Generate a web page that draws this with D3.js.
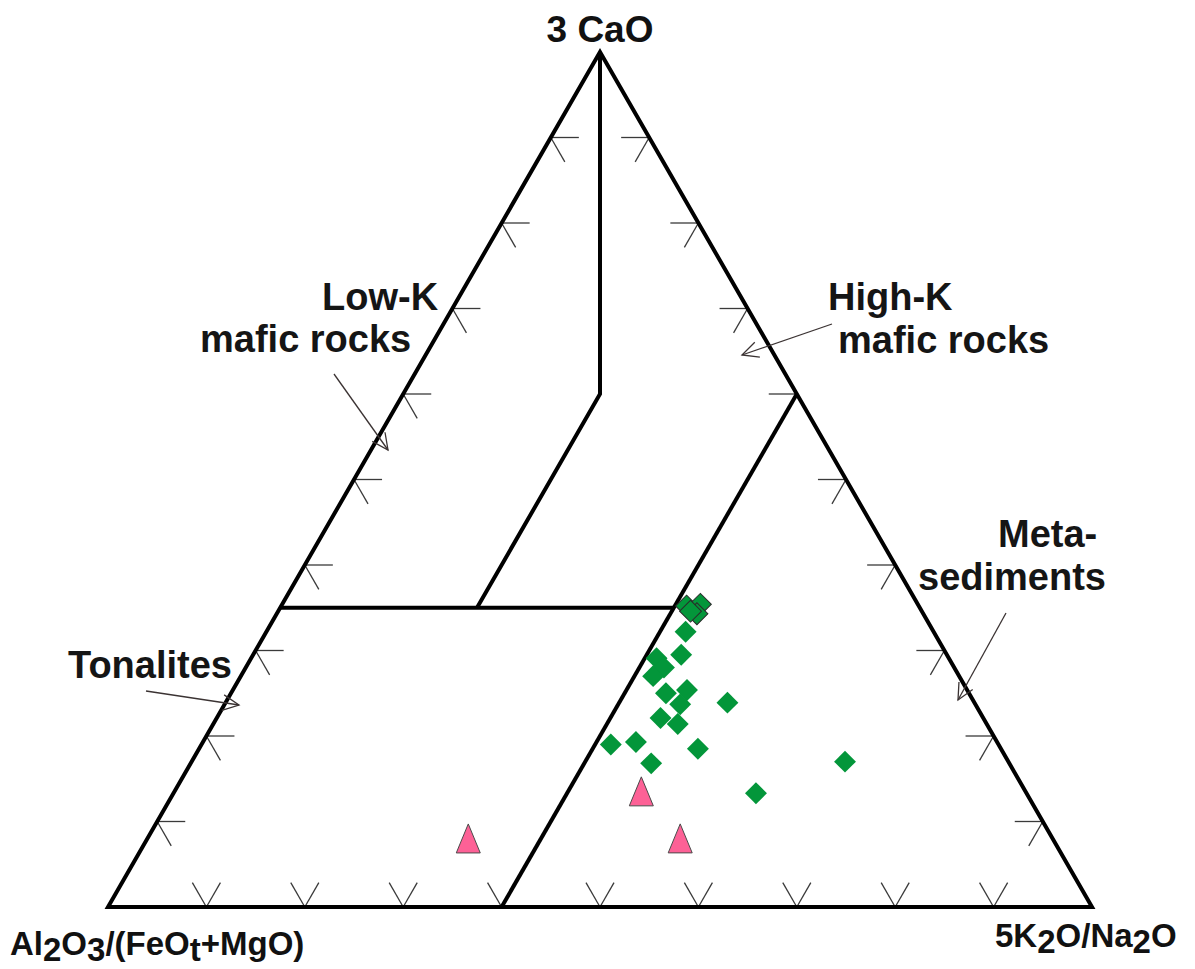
<!DOCTYPE html>
<html>
<head>
<meta charset="utf-8">
<script src="https://cdn.jsdelivr.net/npm/d3@7"></script>
<style>
  body { margin: 0; background: #fff; }
  svg { display: block; font-family: "Liberation Sans", Arial, sans-serif; }
</style>
</head>
<body>
<div id="chart"></div>
<script>
// ternary values in % : Al2O3/(FeOt+MgO), 5K2O/Na2O, 3CaO
const clusterAl = [23.6, 22.1, 23.0, 23.5];
const clusterK  = [41.2, 42.5, 42.7, 41.9];
const clusterCa = [35.2, 35.4, 34.3, 34.6];

const diamondAl = [25.2, 27.0, 29.7, 29.5, 31.1, 28.5, 30.8, 30.0, 25.1, 32.8, 31.4, 39.4, 36.7, 30.8, 36.4, 16.6, 27.5];
const diamondK  = [42.6, 43.5, 41.2, 42.5, 41.9, 46.2, 44.2, 46.3, 51.0, 45.1, 47.2, 41.6, 44.0, 50.7, 46.8, 66.4, 59.2];
const diamondCa = [32.2, 29.5, 29.1, 28.0, 27.0, 25.4, 25.0, 23.7, 23.9, 22.1, 21.4, 19.0, 19.3, 18.5, 16.8, 17.0, 13.3];

const triangleAl = [39.3, 38.1, 59.7];
const triangleK  = [47.7, 54.4, 32.9];
const triangleCa = [13.0, 7.5, 7.5];

// field boundaries, ternary vertices [Al, K, Ca]
const fieldLines = [
  [[0, 0, 100], [20, 20, 60], [45, 20, 35]],
  [[65, 0, 35], [25, 40, 35]],
  [[0, 40, 60], [60, 40, 0]]
];

const tickValues = [10, 20, 30, 40, 50, 60, 70, 80, 90];

const fieldNames = [
  ["Low-K", "mafic rocks"],
  ["High-K", "mafic rocks"],
  ["Meta-", "sediments"],
  ["Tonalites"]
];

const width = 1195;
const height = 969;

const svg = d3.select("#chart")
  .append("svg")
  .attr("width", width)
  .attr("height", height);

const xScale = d3.scaleLinear().domain([0, 1]).range([108, 1092]);
const yScale = d3.scaleLinear().domain([0, 100]).range([907, 52]);

function proj(al, k, ca) {
  const s = al + k + ca;
  const kk = k / s, cc = ca / s;
  return [xScale(kk + cc / 2), yScale(cc * 100)];
}

const line = d3.line();

// ticks
const d = 2.85;
const ticks = [];
tickValues.forEach(t => {
  // left edge
  ticks.push([proj(100 - t, 0, t), proj(100 - t - d, d, t)]);
  ticks.push([proj(100 - t, 0, t), proj(100 - t, d, t - d)]);
  // bottom edge
  ticks.push([proj(100 - t, t, 0), proj(100 - t, t - d, d)]);
  ticks.push([proj(100 - t, t, 0), proj(100 - t - d, t, d)]);
  // right edge
  ticks.push([proj(0, 100 - t, t), proj(d, 100 - t - d, t)]);
  ticks.push([proj(0, 100 - t, t), proj(d, 100 - t, t - d)]);
});

svg.append("g")
  .selectAll("path")
  .data(ticks)
  .enter()
  .append("path")
  .attr("d", line)
  .attr("fill", "none")
  .attr("stroke", "#3a3a3a")
  .attr("stroke-width", 1.3);

// frame
svg.append("path")
  .attr("d", line([proj(100, 0, 0), proj(0, 100, 0), proj(0, 0, 100)]) + "Z")
  .attr("fill", "none")
  .attr("stroke", "#000")
  .attr("stroke-width", 4)
  .attr("stroke-linejoin", "miter");

svg.append("g")
  .selectAll("path")
  .data(fieldLines)
  .enter()
  .append("path")
  .attr("d", pts => line(pts.map(p => proj(p[0], p[1], p[2]))))
  .attr("fill", "none")
  .attr("stroke", "#000")
  .attr("stroke-width", 4);

// annotation arrows
const arrows = [
  { from: [334, 374], to: [388, 450] },
  { from: [832, 324], to: [742, 355] },
  { from: [146, 691], to: [239, 705] },
  { from: [1006, 613], to: [958, 700] }
];

const arrowG = svg.append("g")
  .attr("fill", "none")
  .attr("stroke", "#3b3333")
  .attr("stroke-width", 1.3);

arrows.forEach(a => {
  const ang = Math.atan2(a.from[1] - a.to[1], a.from[0] - a.to[0]);
  const len = 18, spread = 0.45;
  const arm = s => [a.to[0] + len * Math.cos(ang + s), a.to[1] + len * Math.sin(ang + s)];
  arrowG.append("path").attr("d", line([a.from, a.to]));
  arrowG.append("path").attr("d", line([arm(spread), a.to, arm(-spread)]));
});

// field labels
const labelPos = [
  { x: 322, y: 310, x2: 200, y2: 352 },
  { x: 828, y: 310, x2: 838, y2: 353 },
  { x: 998, y: 547, x2: 918, y2: 590 },
  { x: 68, y: 678 }
];

const labelG = svg.append("g")
  .attr("font-size", 38)
  .attr("font-weight", "bold")
  .attr("fill", "#151515");

fieldNames.forEach((lines, i) => {
  const p = labelPos[i];
  labelG.append("text").attr("x", p.x).attr("y", p.y).text(lines[0]);
  if (lines[1]) labelG.append("text").attr("x", p.x2).attr("y", p.y2).text(lines[1]);
});

// apex labels
svg.append("text")
  .attr("x", 600)
  .attr("y", 42)
  .attr("text-anchor", "middle")
  .attr("font-size", 37)
  .attr("font-weight", "bold")
  .attr("fill", "#111")
  .text("3 CaO");

function subLabel(x, y, parts) {
  const t = svg.append("text")
    .attr("x", x)
    .attr("y", y)
    .attr("font-size", 33)
    .attr("font-weight", "bold")
    .attr("fill", "#111");
  let low = false;
  parts.forEach(([str, sub]) => {
    const dy = sub && !low ? 6 : (!sub && low ? -6 : 0);
    low = sub;
    t.append("tspan").attr("dy", dy).text(str);
  });
}

subLabel(10, 955, [["Al", false], ["2", true], ["O", false], ["3", true], ["/(FeO", false], ["t", true], ["+MgO)", false]]);
subLabel(995, 947, [["5K", false], ["2", true], ["O/Na", false], ["2", true], ["O", false]]);

// data points
const diamond = d3.symbol().type(d3.symbolSquare).size(240);

function points(al, k, ca) {
  return al.map((v, i) => proj(v, k[i], ca[i]));
}

svg.append("g")
  .selectAll("path")
  .data(points(diamondAl, diamondK, diamondCa))
  .enter()
  .append("path")
  .attr("d", diamond)
  .attr("transform", p => `translate(${p[0]},${p[1]}) rotate(45)`)
  .attr("fill", "#03963a");

svg.append("g")
  .selectAll("path")
  .data(points(clusterAl, clusterK, clusterCa))
  .enter()
  .append("path")
  .attr("d", diamond)
  .attr("transform", p => `translate(${p[0]},${p[1]}) rotate(45)`)
  .attr("fill", "#03963a")
  .attr("stroke", "#2a2a2a")
  .attr("stroke-width", 1);

const triPath = "M0,-19L12,10L-12,10Z";

svg.append("g")
  .selectAll("path")
  .data(points(triangleAl, triangleK, triangleCa))
  .enter()
  .append("path")
  .attr("d", triPath)
  .attr("transform", p => `translate(${p[0]},${p[1]})`)
  .attr("fill", "#fd6196")
  .attr("stroke", "#4a4a4a")
  .attr("stroke-width", 1);
</script>
</body>
</html>
